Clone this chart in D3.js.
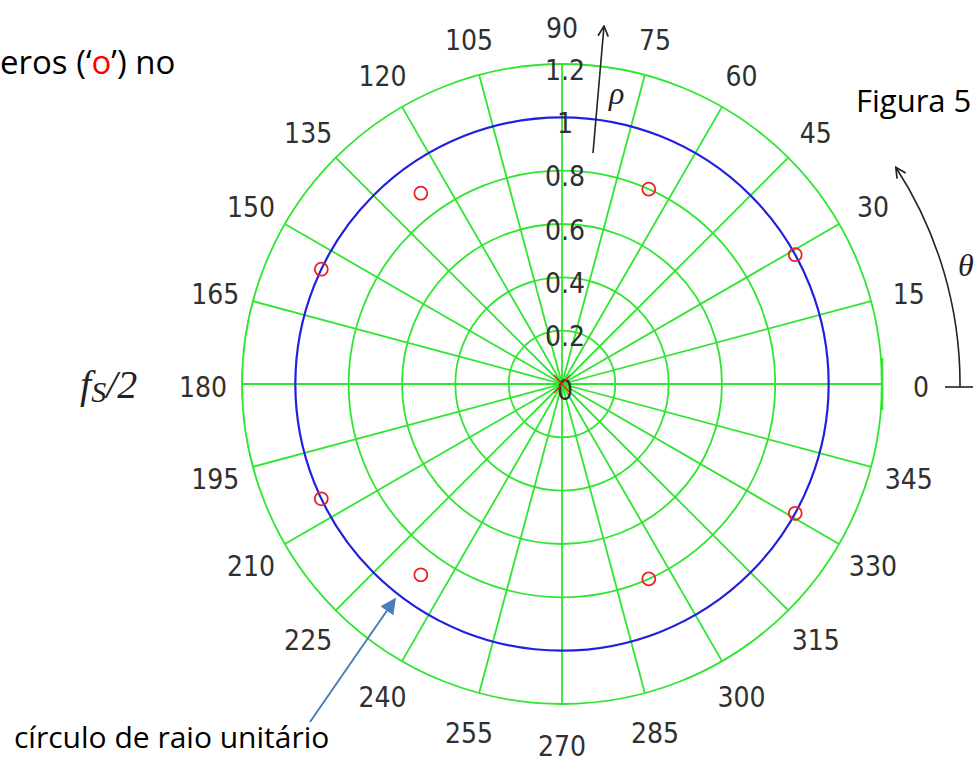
<!DOCTYPE html>
<html>
<head>
<meta charset="utf-8">
<script src="https://cdn.jsdelivr.net/npm/d3@7"></script>
<style>
  body { margin: 0; background: #ffffff; }
  svg { display: block; }
</style>
</head>
<body>
<div id="chart"></div>
<script>
// angle ticks (degrees) and radial ticks
var angleTicks = [0, 15, 30, 45, 60, 75, 90, 105, 120, 135, 150, 165, 180, 195, 210, 225, 240, 255, 270, 285, 300, 315, 330, 345];
var radiusTicks = [0.2, 0.4, 0.6, 0.8, 1, 1.2];
var radiusLabels = ["0", "0.2", "0.4", "0.6", "0.8", "1", "1.2"];
var radiusLabelValues = [0, 0.2, 0.4, 0.6, 0.8, 1, 1.2];

// zeros ('o'): radius and angle in degrees
var zeroRadius = [0.80, 0.80, 0.89, 0.89, 1.0, 1.0, 1.0, 1.0];
var zeroAngle = [66, -66, 126.5, -126.5, 29, -29, 154.5, -154.5];
// poles ('x') at the origin
var poleRadius = [0];
var poleAngle = [0];

var width = 980, height = 768;
var cx = 562, cy = 384;

var svg = d3.select("#chart")
  .append("svg")
  .attr("width", width)
  .attr("height", height);

svg.append("rect").attr("width", width).attr("height", height).attr("fill", "#ffffff");

var r = d3.scaleLinear().domain([0, 1.2]).range([0, 320]);

// polar -> screen
function px(rad, deg) { return cx + r(rad) * Math.cos(deg * Math.PI / 180); }
function py(rad, deg) { return cy - r(rad) * Math.sin(deg * Math.PI / 180); }

var defs = svg.append("defs");
defs.append("marker")
  .attr("id", "blueHead")
  .attr("viewBox", "0 0 10 10")
  .attr("refX", 9).attr("refY", 5)
  .attr("markerWidth", 8).attr("markerHeight", 8)
  .attr("markerUnits", "strokeWidth")
  .attr("orient", "auto")
  .append("path")
  .attr("d", "M0,0 L10,5 L0,10 z")
  .attr("fill", "#4a7ebb");
defs.append("marker")
  .attr("id", "openHead")
  .attr("viewBox", "0 0 10 10")
  .attr("refX", 9).attr("refY", 5)
  .attr("markerWidth", 8).attr("markerHeight", 8)
  .attr("markerUnits", "strokeWidth")
  .attr("orient", "auto")
  .append("path")
  .attr("d", "M1,1 L9,5 L1,9")
  .attr("fill", "none")
  .attr("stroke", "#222")
  .attr("stroke-width", 1.3);

var grid = svg.append("g");
var green = "#2ee62e";

// spokes every 15 degrees
grid.selectAll("line.spoke")
  .data(angleTicks)
  .enter()
  .append("line")
  .attr("class", "spoke")
  .attr("x1", cx).attr("y1", cy)
  .attr("x2", function(d) { return px(1.2, d); })
  .attr("y2", function(d) { return py(1.2, d); })
  .attr("stroke", green)
  .attr("stroke-width", 1.8);

// radial circles (the unit circle is drawn in blue)
grid.selectAll("circle.ring")
  .data(radiusTicks.filter(function(d) { return d !== 1; }))
  .enter()
  .append("circle")
  .attr("class", "ring")
  .attr("cx", cx).attr("cy", cy)
  .attr("r", function(d) { return r(d); })
  .attr("fill", "none")
  .attr("stroke", green)
  .attr("stroke-width", 1.8);

grid.append("circle")
  .attr("cx", cx).attr("cy", cy)
  .attr("r", r(1))
  .attr("fill", "none")
  .attr("stroke", "#2020e0")
  .attr("stroke-width", 2.2);

// small tick on the 0 degree spoke end
grid.append("line")
  .attr("x1", px(1.2, 0)).attr("x2", px(1.2, 0))
  .attr("y1", cy - 26).attr("y2", cy + 26)
  .attr("stroke", green).attr("stroke-width", 2.5);

// angle labels
var labelFont = "'Liberation Sans Narrow', 'DejaVu Sans Condensed', 'Liberation Sans', sans-serif";
svg.selectAll("text.angle")
  .data(angleTicks)
  .enter()
  .append("text")
  .attr("class", "angle")
  .attr("x", function(d) { return cx + (r(1.2) + 39) * Math.cos(d * Math.PI / 180); })
  .attr("y", function(d) { return cy - (r(1.2) + 39) * Math.sin(d * Math.PI / 180) + 3; })
  .attr("text-anchor", "middle")
  .attr("dominant-baseline", "central")
  .attr("font-family", labelFont)
  .attr("font-size", 28)
  .attr("fill", "#303030")
  .text(function(d) { return d; });

// radial labels along the 90 degree spoke
svg.selectAll("text.rad")
  .data(radiusLabelValues)
  .enter()
  .append("text")
  .attr("class", "rad")
  .attr("x", cx + 3)
  .attr("y", function(d) { return cy - r(d) + 6; })
  .attr("text-anchor", "middle")
  .attr("dominant-baseline", "central")
  .attr("font-family", labelFont)
  .attr("font-size", 28)
  .attr("fill", "#303030")
  .text(function(d, i) { return radiusLabels[i]; });

// zeros
var zeros = zeroRadius.map(function(d, i) { return { r: d, a: zeroAngle[i] }; });
svg.selectAll("circle.zero")
  .data(zeros)
  .enter()
  .append("circle")
  .attr("class", "zero")
  .attr("cx", function(d) { return px(d.r, d.a); })
  .attr("cy", function(d) { return py(d.r, d.a); })
  .attr("r", 6.5)
  .attr("fill", "none")
  .attr("stroke", "#ee2020")
  .attr("stroke-width", 1.8);

// poles
var poles = poleRadius.map(function(d, i) { return { r: d, a: poleAngle[i] }; });
poles.forEach(function(p) {
  var x0 = px(p.r, p.a), y0 = py(p.r, p.a);
  svg.append("path")
    .attr("d", "M" + (x0 - 8) + "," + (y0 - 9) + "L" + (x0 + 8) + "," + (y0 + 9) +
      "M" + (x0 + 8) + "," + (y0 - 9) + "L" + (x0 - 8) + "," + (y0 + 9))
    .attr("stroke", "#ee2020")
    .attr("stroke-width", 1.2)
    .attr("fill", "none");
});

// rho arrow
svg.append("line")
  .attr("x1", 593).attr("y1", 153)
  .attr("x2", 604).attr("y2", 26)
  .attr("stroke", "#222").attr("stroke-width", 1.6)
  .attr("marker-end", "url(#openHead)");
svg.append("text")
  .attr("x", 609).attr("y", 104)
  .attr("font-family", "'Liberation Serif', 'DejaVu Serif', serif")
  .attr("font-style", "italic")
  .attr("font-size", 32)
  .attr("fill", "#222")
  .text("ρ");

// theta arrow: arc around the centre
var thetaR = 398;
var thetaEnd = 33 * Math.PI / 180;
svg.append("path")
  .attr("d", "M" + (cx + thetaR) + "," + (cy + 3) +
    " A" + thetaR + "," + thetaR + " 0 0,0 " +
    (cx + thetaR * Math.cos(thetaEnd)) + "," + (cy - thetaR * Math.sin(thetaEnd)))
  .attr("fill", "none")
  .attr("stroke", "#222").attr("stroke-width", 1.6)
  .attr("marker-end", "url(#openHead)");
svg.append("line")
  .attr("x1", 945).attr("x2", 973)
  .attr("y1", cy + 3).attr("y2", cy + 3)
  .attr("stroke", "#222").attr("stroke-width", 1.6);
svg.append("text")
  .attr("x", 958).attr("y", 276)
  .attr("font-family", "'Liberation Serif', 'DejaVu Serif', serif")
  .attr("font-style", "italic")
  .attr("font-size", 32)
  .attr("fill", "#222")
  .text("θ");

// fs/2 label
var fsLabel = svg.append("text")
  .attr("x", 80).attr("y", 398)
  .attr("font-family", "'Liberation Serif', 'DejaVu Serif', serif")
  .attr("font-style", "italic")
  .attr("font-size", 40)
  .attr("fill", "#222");
fsLabel.append("tspan").text("f");
fsLabel.append("tspan").attr("font-size", 30).attr("dy", 4).text("S");
fsLabel.append("tspan").attr("dy", -4).text("/2");

// text annotations
var textFont = "'Open Sans', 'Noto Sans', sans-serif";
var topNote = svg.append("text")
  .attr("x", 0).attr("y", 74)
  .attr("font-family", textFont)
  .attr("font-size", 33)
  .attr("fill", "#000");
topNote.append("tspan").text("eros (‘");
topNote.append("tspan").attr("fill", "#ff0000").text("o");
topNote.append("tspan").text("’) no");

svg.append("text")
  .attr("x", 856).attr("y", 112)
  .attr("font-family", textFont)
  .attr("font-size", 31)
  .attr("fill", "#000")
  .text("Figura 5");

svg.append("text")
  .attr("x", 14).attr("y", 748)
  .attr("font-family", textFont)
  .attr("font-size", 30)
  .attr("fill", "#000")
  .text("círculo de raio unitário");

svg.append("line")
  .attr("x1", 310).attr("y1", 722)
  .attr("x2", 395).attr("y2", 599)
  .attr("stroke", "#4a7ebb").attr("stroke-width", 2)
  .attr("marker-end", "url(#blueHead)");
</script>
</body>
</html>
